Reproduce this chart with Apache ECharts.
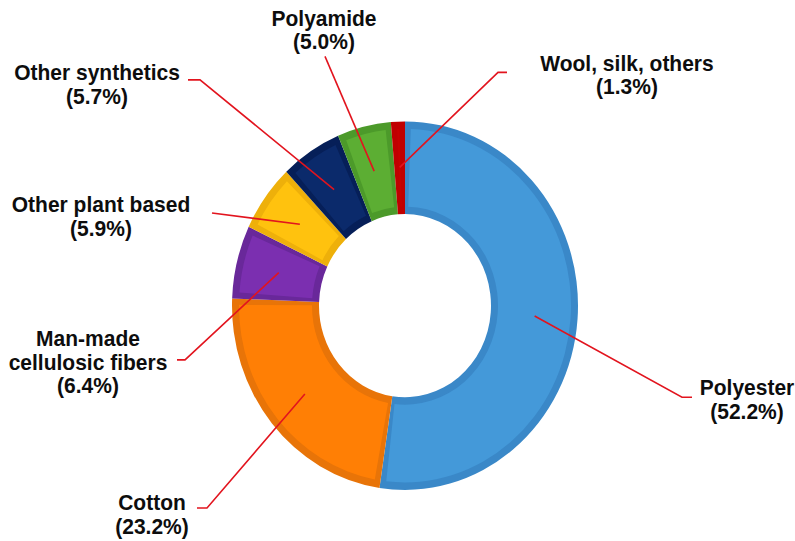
<!DOCTYPE html>
<html>
<head>
<meta charset="utf-8">
<script src="https://cdn.jsdelivr.net/npm/echarts@6/dist/echarts.min.js"></script>
<style>
  html, body { margin: 0; padding: 0; background: #ffffff; }
  #frame { width: 795px; height: 541px; position: relative; }
  #chart { width: 795px; height: 508px; transform: scaleY(1.065); transform-origin: 0 0; }
</style>
</head>
<body>
<div id="frame"><div id="chart"></div></div>
<script>
// Fibre types and their share of global fibre production (%)
const categories = ['Polyester', 'Cotton', 'Man-made\ncellulosic fibers', 'Other plant based', 'Other synthetics', 'Polyamide', 'Wool, silk, others'];
const shares = [52.2, 23.2, 6.4, 5.9, 5.7, 5.0, 1.3];

// Face colour of each segment and the darker bevel round it
const fillColors = ['#4499D9', '#FF7F05', '#7B2FB0', '#FFC20E', '#0B2A6B', '#5CAE33', '#C80000'];
const edgeColors = ['#3A88C8', '#E87408', '#69289A', '#EEB00A', '#061F58', '#4C9A2A', '#C00000'];

// Label placement: centre of each text block, offset of the leader-line end
// from that centre, and the length of the short horizontal elbow
const labelCenters = [[747, 375], [152, 483], [88, 340], [101, 203], [97, 79], [324, 28], [627, 70]];
const lineEndOffsets = [[-55, -2], [45, -6], [89, -2], [111, -3], [91, -4], [1, 25], [-120, -2]];
const elbowLengths = [10, 10, 8, 0, 12, 0, 9];

const CENTER = [405, 287];

const chart = echarts.init(document.getElementById('chart'), null, { renderer: 'svg' });

function ringData(colors) {
  return categories.map((name, i) => {
    const item = { name: name, value: shares[i] };
    if (colors) item.itemStyle = { color: colors[i] };
    return item;
  });
}

chart.setOption({
  animation: false,
  backgroundColor: '#ffffff',
  series: [
    {
      // full ring in the bevel colour
      type: 'pie',
      z: 1,
      center: CENTER,
      radius: [86, 173],
      startAngle: 90,
      clockwise: true,
      silent: true,
      label: { show: false },
      labelLine: { show: false },
      data: ringData(edgeColors)
    },
    {
      // inset face of each segment
      type: 'pie',
      z: 2,
      center: CENTER,
      radius: [93, 166],
      startAngle: 90,
      clockwise: true,
      padAngle: 4,
      silent: true,
      label: { show: false },
      labelLine: { show: false },
      data: ringData(fillColors)
    },
    {
      // invisible carrier whose edge sits mid-ring: leader lines start inside the segments
      type: 'pie',
      z: 5,
      center: CENTER,
      radius: [0, 130],
      startAngle: 90,
      clockwise: true,
      silent: true,
      avoidLabelOverlap: false,
      itemStyle: { color: 'rgba(0,0,0,0)', borderWidth: 0 },
      emphasis: { disabled: true },
      label: {
        show: true,
        position: 'outside',
        color: '#0d0d0d',
        fontFamily: 'Liberation Sans, Arial, sans-serif',
        fontWeight: 'bold',
        fontSize: 21,
        lineHeight: 22,
        align: 'center',
        formatter: p => p.name + '\n(' + shares[p.dataIndex].toFixed(1) + '%)'
      },
      labelLine: {
        show: true,
        length: 10,
        length2: 10,
        lineStyle: { color: '#E2141E', width: 1.6 }
      },
      labelLayout: function (p) {
        const i = p.dataIndex;
        const c = labelCenters[i];
        const end = [c[0] + lineEndOffsets[i][0], c[1] + lineEndOffsets[i][1]];
        let start;
        if (p.labelLinePoints && p.labelLinePoints[0]) {
          start = p.labelLinePoints[0];
        } else {
          const total = shares.reduce((a, b) => a + b, 0);
          const before = shares.slice(0, i).reduce((a, b) => a + b, 0);
          const mid = (before + shares[i] / 2) / total * Math.PI * 2;
          start = [CENTER[0] + 130 * Math.sin(mid), CENTER[1] - 130 * Math.cos(mid)];
        }
        const dir = Math.sign(start[0] - end[0]);
        const elbow = [end[0] + dir * elbowLengths[i], end[1]];
        return {
          x: c[0],
          y: c[1],
          align: 'center',
          verticalAlign: 'middle',
          labelLinePoints: [start, elbow, end]
        };
      },
      data: ringData(null)
    }
  ]
});
</script>
</body>
</html>
